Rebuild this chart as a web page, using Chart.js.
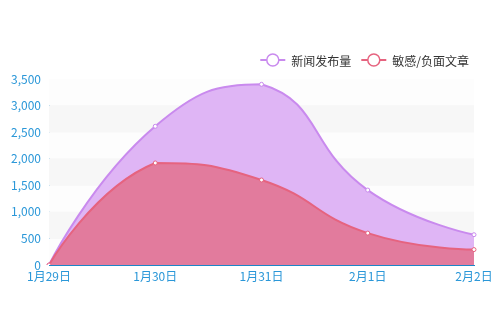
<!DOCTYPE html>
<html>
<head>
<meta charset="utf-8">
<script src="https://cdn.jsdelivr.net/npm/chart.js@4/dist/chart.umd.min.js"></script>
<style>
  html, body { margin: 0; padding: 0; background: #fff; }
  #wrap { width: 504px; height: 336px; }
</style>
</head>
<body>
<div id="wrap"><canvas id="line"></canvas></div>
<script>
const days = ["1月29日", "1月30日", "1月31日", "2月1日", "2月2日"];
const newsCount = [0, 2610, 3400, 1410, 570];
const sensitiveCount = [0, 1920, 1600, 600, 290];
const yTicks = [0, 500, 1000, 1500, 2000, 2500, 3000, 3500];

const font = "'Microsoft YaHei', 'Noto Sans CJK SC', sans-serif";
const axisBlue = "#1c86c8";
const labelBlue = "#2a97d8";

// control points kept inside the bounding box of the series
function smoothPoints(pts, smooth) {
    const n = pts.length;
    const xs = pts.map(p => p.x), ys = pts.map(p => p.y);
    const minX = Math.min(...xs), maxX = Math.max(...xs);
    const minY = Math.min(...ys), maxY = Math.max(...ys);
    const cx = v => Math.min(Math.max(v, minX), maxX);
    const cy = v => Math.min(Math.max(v, minY), maxY);
    pts.forEach((p, i) => {
        const prev = pts[i - 1], next = pts[i + 1];
        if (!prev || !next) {
            p.cp1x = p.cp2x = p.x;
            p.cp1y = p.cp2y = p.y;
            return;
        }
        const vx = (next.x - prev.x) * smooth, vy = (next.y - prev.y) * smooth;
        const d0 = Math.hypot(p.x - prev.x, p.y - prev.y);
        const d1 = Math.hypot(next.x - p.x, next.y - p.y);
        const a = d0 / (d0 + d1), b = d1 / (d0 + d1);
        p.cp1x = cx(p.x - vx * a);
        p.cp1y = cy(p.y - vy * a);
        p.cp2x = cx(p.x + vx * b);
        p.cp2y = cy(p.y + vy * b);
    });
}

const softCurve = {
    id: "softCurve",
    afterDatasetsUpdate(chart) {
        chart.data.datasets.forEach((ds, i) => {
            const meta = chart.getDatasetMeta(i);
            const line = meta.dataset;
            line.updateControlPoints(chart.chartArea, "x");
            smoothPoints(meta.data, 0.5);
            line._pointsUpdated = true;
            line._path = undefined;
        });
    }
};

// alternating background bands between y ticks
const bands = {
    id: "bands",
    beforeDatasetsDraw(chart) {
        const {ctx, chartArea, scales} = chart;
        const y = scales.y;
        ctx.save();
        for (let i = 0; i < yTicks.length - 1; i++) {
            const top = y.getPixelForValue(yTicks[i + 1]);
            const bottom = y.getPixelForValue(yTicks[i]);
            ctx.fillStyle = i % 2 === 0 ? "#fdfdfd" : "#f7f7f7";
            ctx.fillRect(chartArea.left, top, chartArea.right - chartArea.left, bottom - top);
        }
        ctx.restore();
    }
};

// legend: line + hollow circle, right aligned
const lineLegend = {
    id: "lineLegend",
    afterDraw(chart) {
        const ctx = chart.ctx;
        const items = [chart.data.datasets[1], chart.data.datasets[0]];
        ctx.save();
        ctx.font = "12px " + font;
        ctx.textBaseline = "middle";
        const cy = 60;
        let widths = items.map(d => 25 + 6 + ctx.measureText(d.label).width);
        let total = widths.reduce((a, b) => a + b, 0) + 10 * (items.length - 1);
        let x = 469 - total;
        items.forEach((d, i) => {
            ctx.strokeStyle = d.borderColor;
            ctx.lineWidth = 2;
            ctx.beginPath();
            ctx.moveTo(x, cy);
            ctx.lineTo(x + 25, cy);
            ctx.stroke();
            ctx.beginPath();
            ctx.arc(x + 12.5, cy, 6, 0, Math.PI * 2);
            ctx.fillStyle = "#fff";
            ctx.fill();
            ctx.lineWidth = 1.5;
            ctx.stroke();
            ctx.fillStyle = "#333";
            ctx.fillText(d.label, x + 31, cy + 1);
            x += widths[i] + 10;
        });
        ctx.restore();
    }
};

new Chart(document.getElementById("line"), {
    type: "line",
    data: {
        labels: days,
        datasets: [
            {
                label: "敏感/负面文章",
                data: sensitiveCount,
                borderColor: "#e6637f",
                backgroundColor: "rgb(226,123,157)",
                fill: "origin",
                borderWidth: 2,
                tension: 0.5,
                pointRadius: 2,
                pointBorderWidth: 1,
                pointBackgroundColor: "#fff",
                pointBorderColor: "#e6637f",
                order: 1
            },
            {
                label: "新闻发布量",
                data: newsCount,
                borderColor: "#c98aee",
                backgroundColor: "rgb(223,181,245)",
                fill: "origin",
                borderWidth: 2,
                tension: 0.5,
                pointRadius: 2,
                pointBorderWidth: 1,
                pointBackgroundColor: "#fff",
                pointBorderColor: "#c98aee",
                order: 2
            }
        ]
    },
    options: {
        responsive: true,
        maintainAspectRatio: false,
        animation: false,
        layout: { padding: { top: 79, right: 30, left: 0, bottom: 0 } },
        plugins: {
            legend: { display: false },
            tooltip: { enabled: false }
        },
        scales: {
            x: {
                offset: false,
                grid: { display: false, drawTicks: false },
                border: { display: true, color: axisBlue, width: 1 },
                ticks: {
                    color: labelBlue,
                    font: { family: font, size: 12 },
                    padding: 4,
                    maxRotation: 0,
                    autoSkip: false
                },
                afterFit(scale) { scale.height = 71; }
            },
            y: {
                min: 0,
                max: 3500,
                afterBuildTicks(scale) { scale.ticks = yTicks.map(v => ({value: v})); },
                grid: { color: "#ececec", drawTicks: false },
                border: { display: true, color: axisBlue, width: 1 },
                ticks: {
                    color: labelBlue,
                    font: { family: font, size: 12 },
                    padding: 8,
                    callback: v => v.toLocaleString("en-US")
                },
                afterFit(scale) { scale.width = 49; }
            }
        }
    },
    plugins: [softCurve, bands, lineLegend]
});
</script>
</body>
</html>
